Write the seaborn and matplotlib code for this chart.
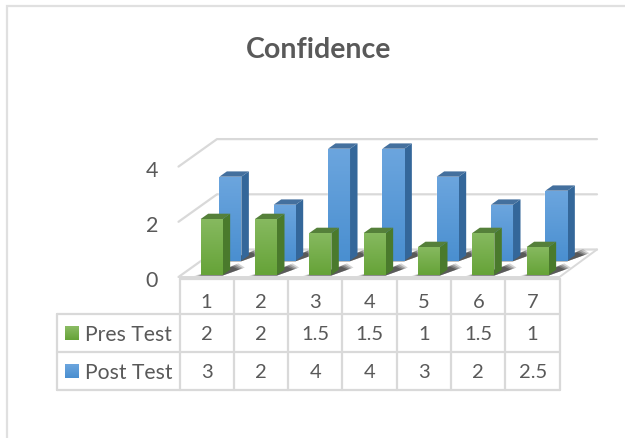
import matplotlib
matplotlib.use('Agg')
import matplotlib.pyplot as plt
import numpy as np
import pandas as pd
import seaborn as sns
from matplotlib.colors import LinearSegmentedColormap
from matplotlib.patches import Polygon

sessions = ['1', '2', '3', '4', '5', '6', '7']
pres_test = [2, 2, 1.5, 1.5, 1, 1.5, 1]
post_test = [3, 2, 4, 4, 3, 2, 2.5]
table_text = [['2', '2', '1.5', '1.5', '1', '1.5', '1'],
              ['3', '2', '4', '4', '3', '2', '2.5']]
series_names = ['Pres Test', 'Post Test']
value_ticks = [0, 2, 4]
title = 'Confidence'

W, H = 625, 439
UNIT = 28.0      # pixels per value unit
BAND = 54.33     # pixels per category
GREY = '#595959'
LINE = '#d9d9d9'

sns.set_theme(style='white')
plt.rcParams['font.family'] = ['Lato', 'DejaVu Sans']

fig = plt.figure(figsize=(W / 100, H / 100), dpi=100, facecolor='white')

# background layer in pixel coordinates: frame, walls, floor, table, text
bg = fig.add_axes([0, 0, 1, 1], zorder=0)
bg.set_xlim(0, W)
bg.set_ylim(H, 0)
bg.set_axis_off()

bg.plot([6.5, 6.5, W], [H, 6.5, 6.5], color='#e0e0e0', lw=1.6, solid_joinstyle='miter')

left, right = 179.5, 559.5
dx, dy = 37.5, 27.5
floor = Polygon([(left, 278), (right, 278), (right + dx, 278 - dy), (left + dx, 278 - dy)],
                facecolor='white', edgecolor='none')
bg.add_patch(floor)
for v in value_ticks:
    y0 = 278 - v * 27.6
    bg.plot([left - 1, left + dx, right + dx], [y0, y0 - dy, y0 - dy], color=LINE, lw=1.6,
            solid_joinstyle='round')
    bg.text(152, y0 + 3, str(v), ha='center', va='center', fontsize=15.5, color=GREY)
bg.plot([left, right, right + dx], [278, 278, 278 - dy], color=LINE, lw=1.4)

# table
rows = [279.5, 315, 353, 391.5]
legend_left = 57
for i in range(len(sessions) + 1):
    x0 = left + i * BAND
    bg.plot([x0, x0], [rows[0], rows[-1]], color=LINE, lw=1.6)
bg.plot([left, right], [rows[0], rows[0]], color=LINE, lw=1.6)
for y0 in rows[1:]:
    bg.plot([legend_left, right], [y0, y0], color=LINE, lw=1.6)
bg.plot([legend_left, legend_left], [rows[1], rows[-1]], color=LINE, lw=1.6)

for i, label in enumerate(sessions):
    cx = left + (i + 0.5) * BAND
    bg.text(cx, 302.5, label, ha='center', va='center', fontsize=14.5, color=GREY)
    bg.text(cx, 335, table_text[0][i], ha='center', va='center', fontsize=14.5, color=GREY)
    bg.text(cx, 373, table_text[1][i], ha='center', va='center', fontsize=14.5, color=GREY)

key_colors = [('#8abb63', '#66a338'), ('#6ba5de', '#4a8fd0')]
for r, name in enumerate(series_names):
    cy = (rows[r + 1] + rows[r + 2]) / 2
    key = LinearSegmentedColormap.from_list('key', key_colors[r])
    bg.imshow(np.linspace(0, 1, 20).reshape(-1, 1), cmap=key, extent=(65, 79, cy + 7, cy - 7), aspect='auto', zorder=3)
    bg.text(85, cy + 1, name, ha='left', va='center', fontsize=15.2, color=GREY)
bg.set_xlim(0, W)
bg.set_ylim(H, 0)

bg.text(319, 50, title, ha='center', va='center', fontsize=20.5, fontweight='bold', color=GREY)


def draw_series(values, name, x_left, base, colors, zorder):
    ax = fig.add_axes([x_left / W, (H - base) / H, BAND * 7 / W, 5 * UNIT / H], zorder=zorder)
    ax.patch.set_alpha(0)
    df = pd.DataFrame({'session': sessions, name: values})
    sns.barplot(data=df, x='session', y=name, color=colors['mid'], width=22 / BAND, ax=ax, errorbar=None)
    ax.set_xlim(-0.5, 6.5)
    ax.set_ylim(0, 5)
    ax.set_axis_off()

    depth_x, depth_y = 7.5 / BAND, 5.3 / UNIT
    cmap = LinearSegmentedColormap.from_list('front', [colors['top'], colors['bottom']])
    for bar in ax.patches:
        x0, w, h = bar.get_x(), bar.get_width(), bar.get_height()
        # floor shadow, soft edge made of stacked translucent shapes
        for k, a in zip([1.0, 0.75, 0.5, 0.25], [0.2, 0.28, 0.35, 0.45]):
            reach = depth_x + 0.13 + 0.14 * k
            ax.add_patch(Polygon([(x0 - 0.12 * k, -0.02), (x0 + w, -0.02), (x0 + w + reach, depth_y * (0.9 + k * 0.5)),
                                  (x0 + w + reach - 0.12, depth_y * (1.4 + k * 0.8)), (x0 + w, depth_y)],
                                 facecolor='#303030', edgecolor='none', alpha=a, clip_on=False, zorder=1))
        ax.add_patch(Polygon([(x0 + w, 0), (x0 + w + depth_x, depth_y), (x0 + w + depth_x, h + depth_y), (x0 + w, h)],
                             facecolor=colors['side'], edgecolor='none', clip_on=False, zorder=2))
        ax.add_patch(Polygon([(x0, h), (x0 + w, h), (x0 + w + depth_x, h + depth_y), (x0 + depth_x, h + depth_y)],
                             facecolor=colors['cap'], edgecolor='none', clip_on=False, zorder=2))
        ax.imshow(np.linspace(0, 1, 40).reshape(-1, 1), cmap=cmap, extent=(x0, x0 + w, 0, h),
                  aspect='auto', zorder=3)
    ax.set_xlim(-0.5, 6.5)
    ax.set_ylim(0, 5)
    return ax


post_colors = {'mid': '#5b9bd5', 'top': '#6ba5de', 'bottom': '#4a8fd0', 'side': '#34679a', 'cap': '#44709e'}
pres_colors = {'mid': '#70ad47', 'top': '#86b95f', 'bottom': '#66a338', 'side': '#4a7a2c', 'cap': '#55803a'}
draw_series(post_test, 'Post Test', 203.2, 261.7, post_colors, 1)
draw_series(pres_test, 'Pres Test', 184.5, 276, pres_colors, 2)

fig.savefig('out.png', dpi=100)
